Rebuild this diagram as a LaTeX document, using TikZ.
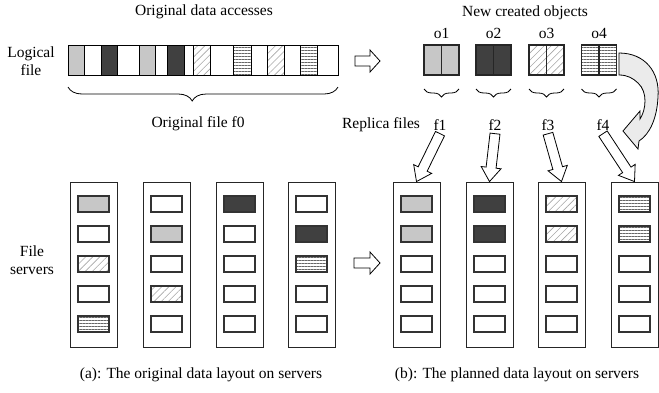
\documentclass[tikz,border=0pt]{standalone}
\usepackage{fontspec}
\setmainfont{Liberation Serif}
\usetikzlibrary{calc,decorations.pathreplacing,patterns.meta}

\tikzset{
  gr/.style={fill=black!22},
  dk/.style={fill=black!75},
  dg/.style={pattern={Lines[angle=45,distance=5pt,line width=0.6pt]},pattern color=black!35},
  hz/.style={pattern={Lines[angle=0,distance=3pt,line width=0.7pt]},pattern color=black!60},
  seg/.style={draw=black,line width=0.9pt},
  cell/.style={draw=black!80,line width=1.1pt},
  obj/.style={draw=black!85,line width=1.3pt},
  server/.style={draw=black!85,line width=0.9pt,minimum width=47pt,minimum height=165pt,inner sep=0pt},
  lbl/.style={font=\fontsize{15.5}{18}\selectfont,align=center,inner sep=0pt},
  rep/.style={lbl,inner sep=3pt},
  brc/.style={decorate,decoration={brace,amplitude=#1},line width=0.8pt},
}

% hollow block arrow: from, to, head length, shaft half width, head half width
\newcommand{\blockarrow}[5]{%
  \coordinate (ba) at ($(#2)!#3!(#1)$);
  \draw[line width=0.8pt,fill=white] ($(#1)!#4!90:(#2)$) -- ($(ba)!#4!-90:(#1)$)
    -- ($(ba)!#5!-90:(#1)$) -- (#2) -- ($(ba)!#5!90:(#1)$)
    -- ($(ba)!#4!90:(#1)$) -- ($(#1)!#4!-90:(#2)$) -- cycle;}

\begin{document}
\begin{tikzpicture}[x=1pt,y=-1pt]
\useasboundingbox (0,0) rectangle (659,392);

% titles
\node[lbl] (tacc) at (204,12) {Original data accesses};
\node[lbl] (tnew) at (525,13) {New created objects};
\node[lbl] (tlog) at (31,61) {Logical\\file};
\node[lbl] (tsrv) at (32,260) {File\\servers};

% the logical file
\draw[seg,gr] (68,45) rectangle (84,75);
\draw[seg] (84,45) rectangle (101,75);
\draw[seg,dk] (101,45) rectangle (117,75);
\draw[seg] (117,45) rectangle (139,75);
\draw[seg,gr] (139,45) rectangle (155,75);
\draw[seg] (155,45) rectangle (167,75);
\draw[seg,dk] (167,45) rectangle (184,75);
\draw[seg] (184,45) rectangle (193,75);
\draw[seg,dg] (193,45) rectangle (210,75);
\draw[seg] (210,45) rectangle (233,75);
\draw[seg,hz] (233,45) rectangle (251,75);
\draw[seg] (251,45) rectangle (267,75);
\draw[seg,dg] (267,45) rectangle (284,75);
\draw[seg] (284,45) rectangle (300,75);
\draw[seg,hz] (300,45) rectangle (317,75);
\draw[seg] (317,45) rectangle (338,75);
\draw[decorate,decoration={brace,amplitude=14pt,aspect=0.54},line width=0.8pt] (338,87) -- (68,87);
\node[lbl] (tf0) at (198,124) {Original file f0};

\coordinate (p1) at (355,61);
\coordinate (p2) at (380,61);
\blockarrow{p1}{p2}{10pt}{5pt}{11pt}

% new objects
\node[lbl] (o1) at (441.5,33) {o1};
\node[lbl] (o2) at (493.5,33) {o2};
\node[lbl] (o3) at (546.5,33) {o3};
\node[lbl] (o4) at (599,33) {o4};
\draw[obj,gr] (424,45) rectangle (459,75);
\draw[obj] (441.5,45) -- (441.5,75);
\draw[obj,dk] (476,45) rectangle (511,75);
\draw[obj] (493.5,45) -- (493.5,75);
\draw[obj,dg] (529,45) rectangle (564,75);
\draw[obj] (546.5,45) -- (546.5,75);
\draw[obj,hz] (581.5,45) rectangle (616.5,75);
\draw[obj] (599,45) -- (599,75);
\draw[brc=8pt] (459,89) -- (424,89);
\draw[brc=8pt] (511,89) -- (476,89);
\draw[brc=8pt] (564,89) -- (529,89);
\draw[brc=8pt] (616.5,89) -- (581.5,89);

% curved arrow
\draw[line width=0.8pt,fill=black!8] (619,53) .. controls (645,53) and (660,72) .. (658,97)
  .. controls (657,118) and (650,134) .. (639,141) -- (638,149) -- (623,131) -- (640,111)
  -- (640,119) .. controls (646,110) and (648,92) .. (638,83)
  .. controls (633,78) and (627,75) .. (619,75) -- cycle;

% replica files
\node[lbl] (trep) at (381,125) {Replica files};
\node[rep] (f1) at (440,125) {f1};
\node[rep] (f2) at (495,125) {f2};
\node[rep] (f3) at (548,125) {f3};
\node[rep] (f4) at (603,125) {f4};

% file servers
\node[server] (s1) at (93.5,264.5) {};
\node[server] (s2) at (166.5,264.5) {};
\node[server] (s3) at (239.5,264.5) {};
\node[server] (s4) at (311.5,264.5) {};
\node[server] (s5) at (416.5,264.5) {};
\node[server] (s6) at (489.5,264.5) {};
\node[server] (s7) at (561.5,264.5) {};
\node[server] (s8) at (634.5,264.5) {};

\draw[cell,gr] (78,196) rectangle +(31,16);
\draw[cell] (78,226) rectangle +(31,16);
\draw[cell,dg] (78,256) rectangle +(31,16);
\draw[cell] (78,286) rectangle +(31,16);
\draw[cell,hz] (78,316) rectangle +(31,16);
\draw[cell] (151,196) rectangle +(31,16);
\draw[cell,gr] (151,226) rectangle +(31,16);
\draw[cell] (151,256) rectangle +(31,16);
\draw[cell,dg] (151,286) rectangle +(31,16);
\draw[cell] (151,316) rectangle +(31,16);
\draw[cell,dk] (224,196) rectangle +(31,16);
\draw[cell] (224,226) rectangle +(31,16);
\draw[cell] (224,256) rectangle +(31,16);
\draw[cell] (224,286) rectangle +(31,16);
\draw[cell] (224,316) rectangle +(31,16);
\draw[cell] (296,196) rectangle +(31,16);
\draw[cell,dk] (296,226) rectangle +(31,16);
\draw[cell,hz] (296,256) rectangle +(31,16);
\draw[cell] (296,286) rectangle +(31,16);
\draw[cell] (296,316) rectangle +(31,16);

\draw[cell,gr] (401,196) rectangle +(31,16);
\draw[cell,gr] (401,226) rectangle +(31,16);
\draw[cell] (401,256) rectangle +(31,16);
\draw[cell] (401,286) rectangle +(31,16);
\draw[cell] (401,316) rectangle +(31,16);
\draw[cell,dk] (474,196) rectangle +(31,16);
\draw[cell,dk] (474,226) rectangle +(31,16);
\draw[cell] (474,256) rectangle +(31,16);
\draw[cell] (474,286) rectangle +(31,16);
\draw[cell] (474,316) rectangle +(31,16);
\draw[cell,dg] (546,196) rectangle +(31,16);
\draw[cell,dg] (546,226) rectangle +(31,16);
\draw[cell] (546,256) rectangle +(31,16);
\draw[cell] (546,286) rectangle +(31,16);
\draw[cell] (546,316) rectangle +(31,16);
\draw[cell,hz] (619,196) rectangle +(31,16);
\draw[cell,hz] (619,226) rectangle +(31,16);
\draw[cell] (619,256) rectangle +(31,16);
\draw[cell] (619,286) rectangle +(31,16);
\draw[cell] (619,316) rectangle +(31,16);

\coordinate (p3) at (354,263);
\coordinate (p4) at (380,263);
\blockarrow{p3}{p4}{10pt}{5pt}{11pt}

% replica arrows
\blockarrow{f1.south}{s5.north}{14pt}{5pt}{10pt}
\blockarrow{f2.south}{s6.north}{14pt}{5pt}{10pt}
\blockarrow{f3.south}{s7.north}{14pt}{5pt}{10pt}
\blockarrow{f4.south}{s8.north}{14pt}{5pt}{10pt}

% captions
\node[lbl] (capa) at (201,375) {(a): The original data layout on servers};
\node[lbl] (capb) at (517,375) {(b): The planned data layout on servers};
\end{tikzpicture}
\end{document}
